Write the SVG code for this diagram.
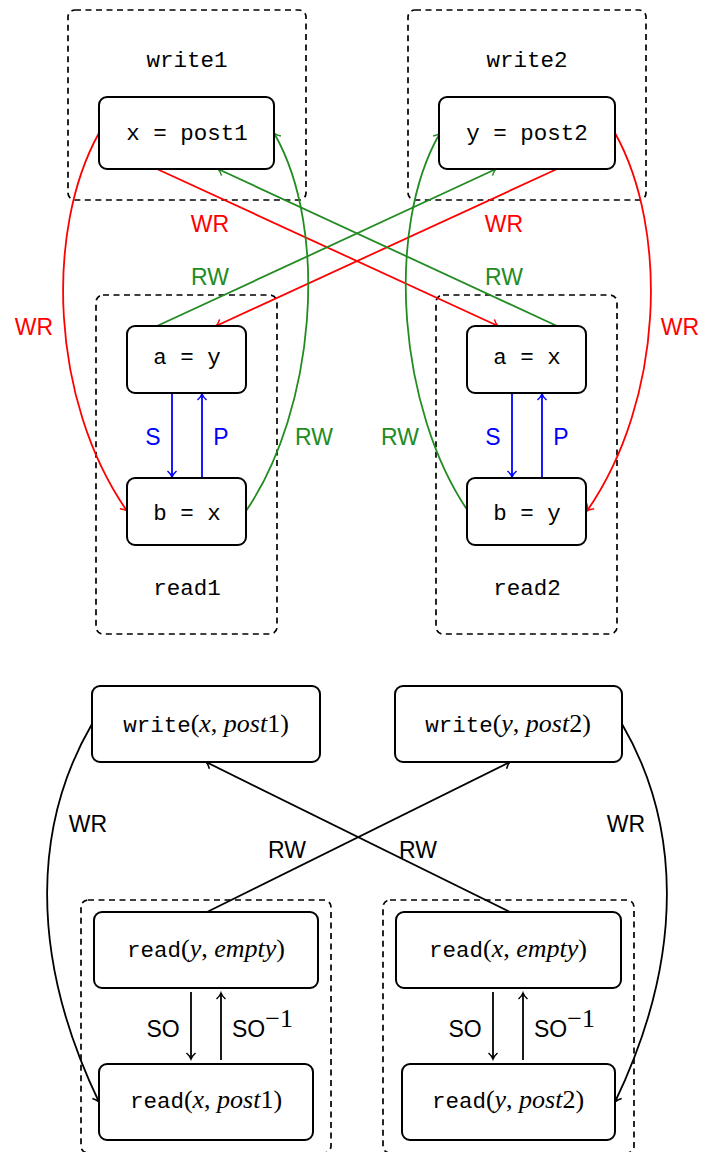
<svg xmlns="http://www.w3.org/2000/svg" width="703" height="1152" viewBox="0 0 703 1152">
<style>
.grp{fill:none;stroke:#000;stroke-width:1.7;stroke-dasharray:6 4.5}
.node{fill:#fff;stroke:#000;stroke-width:2}
.mono{font-family:"Liberation Mono","DejaVu Sans Mono",monospace;font-size:22.5px;fill:#000;text-anchor:middle}
.lbl{font-family:"Liberation Sans","DejaVu Sans",sans-serif;font-size:23px;text-anchor:middle}
.ser{font-family:"Liberation Serif","DejaVu Serif",serif;font-size:26px}
.it{font-style:italic}
.e{fill:none;stroke-width:1.8}
.r{stroke:#ff0000}.g{stroke:#228b22}.b{stroke:#0000ff}.k{stroke:#000}
</style>
<defs>
<marker id="ar" markerWidth="12" markerHeight="12" refX="9" refY="6" orient="auto" markerUnits="userSpaceOnUse"><path d="M3,1.5 Q6,5 9,6 Q6,7 3,10.5" fill="none" stroke="#ff0000" stroke-width="1.5"/></marker>
<marker id="ag" markerWidth="12" markerHeight="12" refX="9" refY="6" orient="auto" markerUnits="userSpaceOnUse"><path d="M3,1.5 Q6,5 9,6 Q6,7 3,10.5" fill="none" stroke="#228b22" stroke-width="1.5"/></marker>
<marker id="ab" markerWidth="12" markerHeight="12" refX="9" refY="6" orient="auto" markerUnits="userSpaceOnUse"><path d="M3,1.5 Q6,5 9,6 Q6,7 3,10.5" fill="none" stroke="#0000ff" stroke-width="1.5"/></marker>
<marker id="ak" markerWidth="12" markerHeight="12" refX="9" refY="6" orient="auto" markerUnits="userSpaceOnUse"><path d="M3,1.5 Q6,5 9,6 Q6,7 3,10.5" fill="none" stroke="#000" stroke-width="1.5"/></marker>
</defs>
<rect width="703" height="1152" fill="#fff"/>

<g id="write1">
<rect class="grp" x="68" y="10" width="238" height="190" rx="7"/>
<text class="mono" x="187" y="67">write1</text>
</g>
<g id="write2">
<rect class="grp" x="408" y="10" width="238" height="190" rx="7"/>
<text class="mono" x="527" y="67">write2</text>
</g>
<g id="read1">
<rect class="grp" x="96" y="295" width="181" height="339" rx="7"/>
<text class="mono" x="187" y="595">read1</text>
</g>
<g id="read2">
<rect class="grp" x="436" y="295" width="181" height="339" rx="7"/>
<text class="mono" x="527" y="595">read2</text>
</g>

<g id="connectors">
<path class="e r" d="M157,169 L498,326" marker-end="url(#ar)"/>
<path class="e r" d="M557,169 L216,326" marker-end="url(#ar)"/>
<path class="e g" d="M557,326 L218,169" marker-end="url(#ag)"/>
<path class="e g" d="M157,326 L496,169" marker-end="url(#ag)"/>
<path class="e r" d="M99,133 C45,230 50,400 127,511" marker-end="url(#ar)"/>
<path class="e r" d="M615,133 C669,230 664,400 587,511" marker-end="url(#ar)"/>
<path class="e g" d="M246,511 C315,410 330,230 274,133" marker-end="url(#ag)"/>
<path class="e g" d="M468,511 C399,410 384,230 440,133" marker-end="url(#ag)"/>
<path class="e b" d="M172,393 L172,477" marker-end="url(#ab)"/>
<path class="e b" d="M202,478 L202,394" marker-end="url(#ab)"/>
<path class="e b" d="M512,393 L512,477" marker-end="url(#ab)"/>
<path class="e b" d="M542,478 L542,394" marker-end="url(#ab)"/>

<path class="e k" d="M207,912 L510,762" marker-end="url(#ak)"/>
<path class="e k" d="M510,912 L206,762" marker-end="url(#ak)"/>
<path class="e k" d="M92,724 C36,820 26,950 99,1102" marker-end="url(#ak)"/>
<path class="e k" d="M622,724 C678,820 688,950 615,1102" marker-end="url(#ak)"/>
<path class="e k" d="M191,992 L191,1059" marker-end="url(#ak)"/>
<path class="e k" d="M221,1060 L221,993" marker-end="url(#ak)"/>
<path class="e k" d="M493,992 L493,1059" marker-end="url(#ak)"/>
<path class="e k" d="M523,1060 L523,993" marker-end="url(#ak)"/>

<g class="lbl" fill="#ff0000">
<text x="210" y="232">WR</text>
<text x="504" y="232">WR</text>
<text x="34" y="335">WR</text>
<text x="680" y="335">WR</text>
</g>
<g class="lbl" fill="#228b22">
<text x="210" y="285">RW</text>
<text x="504" y="285">RW</text>
<text x="314" y="445">RW</text>
<text x="400" y="445">RW</text>
</g>
<g class="lbl" fill="#0000ff">
<text x="153" y="445">S</text>
<text x="221" y="445">P</text>
<text x="493" y="445">S</text>
<text x="561" y="445">P</text>
</g>
<g class="lbl" fill="#000">
<text x="88" y="832">WR</text>
<text x="626" y="832">WR</text>
<text x="287" y="858">RW</text>
<text x="418" y="858">RW</text>
<text x="163" y="1037">SO</text>
<text x="465" y="1037">SO</text>
<text x="232" y="1037" text-anchor="start">SO<tspan class="ser" font-size="15" dy="-10">−1</tspan></text>
<text x="534" y="1037" text-anchor="start">SO<tspan class="ser" font-size="15" dy="-10">−1</tspan></text>
</g>
</g>

<g id="n_x_post1">
<rect class="node" x="99" y="97" width="175" height="72" rx="8"/>
<text class="mono" x="187" y="140">x = post1</text>
</g>
<g id="n_y_post2">
<rect class="node" x="439" y="97" width="176" height="72" rx="8"/>
<text class="mono" x="527" y="140">y = post2</text>
</g>
<g id="n_a_y">
<rect class="node" x="127" y="326" width="119" height="67" rx="8"/>
<text class="mono" x="187" y="364">a = y</text>
</g>
<g id="n_b_x">
<rect class="node" x="127" y="478" width="119" height="67" rx="8"/>
<text class="mono" x="187" y="520">b = x</text>
</g>
<g id="n_a_x">
<rect class="node" x="467" y="326" width="119" height="67" rx="8"/>
<text class="mono" x="527" y="364">a = x</text>
</g>
<g id="n_b_y">
<rect class="node" x="467" y="478" width="119" height="67" rx="8"/>
<text class="mono" x="527" y="520">b = y</text>
</g>

<g id="g_read1b">
<rect class="grp" x="81" y="900" width="250" height="253" rx="7"/>
</g>
<g id="g_read2b">
<rect class="grp" x="383" y="900" width="251" height="253" rx="7"/>
</g>
<g id="n_write_x">
<rect class="node" x="92" y="686" width="228" height="76" rx="8"/>
<text class="mono" x="206" y="732"><tspan>write</tspan><tspan class="ser">(<tspan class="it">x</tspan>, <tspan class="it">post</tspan>1)</tspan></text>
</g>
<g id="n_write_y">
<rect class="node" x="395" y="686" width="227" height="76" rx="8"/>
<text class="mono" x="508" y="732"><tspan>write</tspan><tspan class="ser">(<tspan class="it">y</tspan>, <tspan class="it">post</tspan>2)</tspan></text>
</g>
<g id="n_read_y_empty">
<rect class="node" x="94" y="912" width="224" height="76" rx="8"/>
<text class="mono" x="206" y="957"><tspan>read</tspan><tspan class="ser">(<tspan class="it">y</tspan>, <tspan class="it">empty</tspan>)</tspan></text>
</g>
<g id="n_read_x_post1">
<rect class="node" x="99" y="1064" width="214" height="76" rx="8"/>
<text class="mono" x="206" y="1108"><tspan>read</tspan><tspan class="ser">(<tspan class="it">x</tspan>, <tspan class="it">post</tspan>1)</tspan></text>
</g>
<g id="n_read_x_empty">
<rect class="node" x="396" y="912" width="225" height="76" rx="8"/>
<text class="mono" x="508" y="957"><tspan>read</tspan><tspan class="ser">(<tspan class="it">x</tspan>, <tspan class="it">empty</tspan>)</tspan></text>
</g>
<g id="n_read_y_post2">
<rect class="node" x="402" y="1064" width="213" height="76" rx="8"/>
<text class="mono" x="508" y="1108"><tspan>read</tspan><tspan class="ser">(<tspan class="it">y</tspan>, <tspan class="it">post</tspan>2)</tspan></text>
</g>
</svg>
